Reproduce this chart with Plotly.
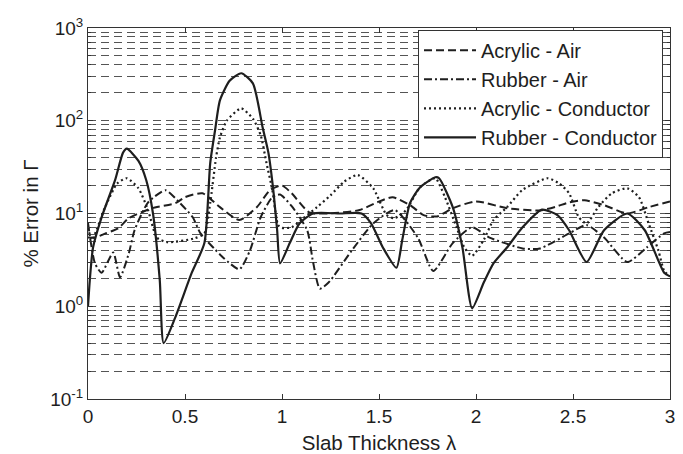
import plotly.graph_objects as go

# ---- data ----
x_acrylic_air = [0, 0.036, 0.09, 0.155, 0.21, 0.33, 0.45, 0.5, 0.59, 0.68, 0.78, 0.87, 0.94, 1.0, 1.05,
                 1.14, 1.24, 1.4, 1.49, 1.57, 1.66, 1.73, 1.8, 1.88, 2.0, 2.16, 2.33, 2.41, 2.48, 2.56,
                 2.66, 2.78, 2.89, 3.0]
y_acrylic_air = [5.5, 5.5, 6.1, 6.9, 8.9, 11.4, 12.9, 15, 16.5, 11.7, 8.5, 11.7, 18, 20, 16.5,
                 10.3, 10, 10.9, 13.2, 15, 12.3, 9.6, 9.3, 11.4, 13.5, 11.4, 10.8, 11.8, 13.2, 13.9,
                 12.3, 10, 11.7, 13.5]

x_rubber_air = [0, 0.036, 0.07, 0.13, 0.165, 0.21, 0.24, 0.31, 0.4, 0.46, 0.54, 0.58, 0.65, 0.7, 0.78,
                0.835, 0.89, 0.95, 0.99, 1.05, 1.13, 1.16, 1.195, 1.24, 1.36, 1.47, 1.58, 1.7, 1.78,
                1.88, 1.98, 2.07, 2.24, 2.33, 2.48, 2.57, 2.66, 2.78, 2.88, 2.97, 3.0]
y_rubber_air = [7.9, 2.9, 2.3, 3.8, 2.05, 3.7, 6.6, 13.2, 17.8, 13.9, 9.1, 6.1, 4.2, 3.3, 2.5,
                4.0, 9.1, 15, 16, 12, 6.6, 3.0, 1.55, 1.8, 4.0, 7.8, 10.9, 5.5, 2.4,
                4.8, 7.1, 5.5, 4.2, 4.2, 6.1, 7.5, 5.5, 3.0, 4.3, 6.1, 6.3]

x_acrylic_cond = [0, 0.02, 0.088, 0.15, 0.2, 0.26, 0.31, 0.355, 0.41, 0.55, 0.6, 0.63, 0.66, 0.68, 0.715,
                  0.79, 0.85, 0.89, 0.92, 0.95, 0.98, 1.0, 1.05, 1.11, 1.18, 1.25, 1.32, 1.39, 1.47,
                  1.54, 1.58, 1.64, 1.71, 1.79, 1.84, 1.9, 1.94, 1.98, 2.04, 2.09, 2.16, 2.24, 2.37,
                  2.43, 2.48, 2.53, 2.57, 2.63, 2.70, 2.78, 2.84, 2.89, 2.94, 2.97, 3.0]
y_acrylic_cond = [7.1, 5.2, 11.7, 21, 24, 18.7, 10.8, 5.5, 4.9, 5.4, 6.1, 13, 40, 66, 100,
                  136, 105, 70, 35, 18, 7.5, 7.0, 7.1, 8.9, 11.7, 15.7, 22, 26, 18.7,
                  9.6, 8.9, 10.9, 19, 24, 15, 7.1, 4.3, 3.5, 5.2, 8.5, 11.7, 18, 24,
                  21, 16.5, 9.1, 7.8, 11.7, 16.5, 18.7, 15, 7.8, 4.0, 2.4, 2.1]

x_rubber_cond = [0, 0.01, 0.026, 0.07, 0.14, 0.18, 0.2, 0.26, 0.3, 0.335, 0.37, 0.39, 0.45, 0.535, 0.6,
                 0.63, 0.655, 0.68, 0.73, 0.79, 0.85, 0.9, 0.93, 0.955, 0.975, 0.99, 1.04, 1.09, 1.16,
                 1.3, 1.41, 1.46, 1.52, 1.59, 1.62, 1.66, 1.71, 1.79, 1.81, 1.88, 1.93, 1.98, 2.04,
                 2.09, 2.16, 2.24, 2.34, 2.42, 2.48, 2.57, 2.66, 2.78, 2.87, 2.97, 3.0]
y_rubber_cond = [1.0, 2.0, 4.3, 9.1, 23, 45, 50, 37, 23, 10, 1.9, 0.40, 0.76, 2.3, 4.8,
                 35, 79, 166, 270, 325, 253, 85, 45, 18, 6.6, 2.9, 4.8, 7.8, 10,
                 10, 10, 7.8, 4.3, 2.6, 5.2, 13, 19, 24.6, 24, 11.7, 4.3, 0.95, 1.8,
                 2.9, 4.3, 7.1, 11, 9.6, 6.6, 3.0, 6.6, 10, 6.6, 2.3, 2.1]

series_names = ["Acrylic - Air", "Rubber - Air", "Acrylic - Conductor", "Rubber - Conductor"]
x_ticks = [0, 0.5, 1, 1.5, 2, 2.5, 3]
x_tick_labels = ["0", "0.5", "1", "1.5", "2", "2.5", "3"]
y_major = [0.1, 1, 10, 100, 1000]
y_major_labels = ["10<sup>-1</sup>", "10<sup>0</sup>", "10<sup>1</sup>", "10<sup>2</sup>", "10<sup>3</sup>"]
y_minor = [m * d for d in (0.1, 1, 10, 100) for m in range(2, 10)]

FONT = "Liberation Sans, Arial, sans-serif"
INK = "#1e1e1e"
GRID = "#555555"

fig = go.Figure()
styles = [
    (x_acrylic_air, y_acrylic_air, "8px,4px", 2),
    (x_rubber_air, y_rubber_air, "8px,3px,2px,3px", 2),
    (x_acrylic_cond, y_acrylic_cond, "2px,3px", 2.2),
    (x_rubber_cond, y_rubber_cond, "solid", 2.2),
]
for name, (xs, ys, dash, w) in zip(series_names, styles):
    fig.add_trace(go.Scatter(
        x=xs, y=ys, mode="lines", name=name,
        line=dict(color=INK, width=w, dash=dash, shape="spline", smoothing=0.6),
    ))

# page body adds an 8px offset; size/margins compensate for it
fig.update_layout(
    width=675, height=446,
    margin=dict(l=80, r=13, t=20, b=55, autoexpand=False),
    paper_bgcolor="white", plot_bgcolor="white",
    font=dict(family=FONT, size=19, color=INK),
    showlegend=True,
    legend=dict(
        x=0.988, y=0.995, xanchor="right", yanchor="top",
        bgcolor="white", bordercolor="#333333", borderwidth=1,
        font=dict(family=FONT, size=20, color=INK),
        itemwidth=52, tracegroupgap=0,
    ),
)
fig.update_xaxes(
    range=[0, 3], tickvals=x_ticks, ticktext=x_tick_labels,
    showgrid=False, zeroline=False, automargin=False,
    showline=True, linecolor="#333333", linewidth=1, mirror="allticks",
    ticks="inside", ticklen=5, tickcolor="#333333",
    tickfont=dict(size=19),
    title=dict(text="Slab Thickness λ", font=dict(size=20.5), standoff=14),
)
fig.update_yaxes(
    type="log", range=[-1, 3],
    tickvals=y_major, ticktext=y_major_labels,
    showgrid=True, gridcolor=GRID, gridwidth=1, griddash="8px,5px",
    zeroline=False, automargin=False,
    showline=True, linecolor="#333333", linewidth=1, mirror="allticks",
    ticks="inside", ticklen=5, tickcolor="#333333",
    tickfont=dict(size=19),
    minor=dict(tickvals=y_minor, ticks="inside", ticklen=3, tickcolor="#333333",
               showgrid=True, gridcolor=GRID, gridwidth=1, griddash="8px,5px"),
    title=dict(text="% Error in Γ", font=dict(size=20.5), standoff=6),
)

fig.write_html("out.html")
